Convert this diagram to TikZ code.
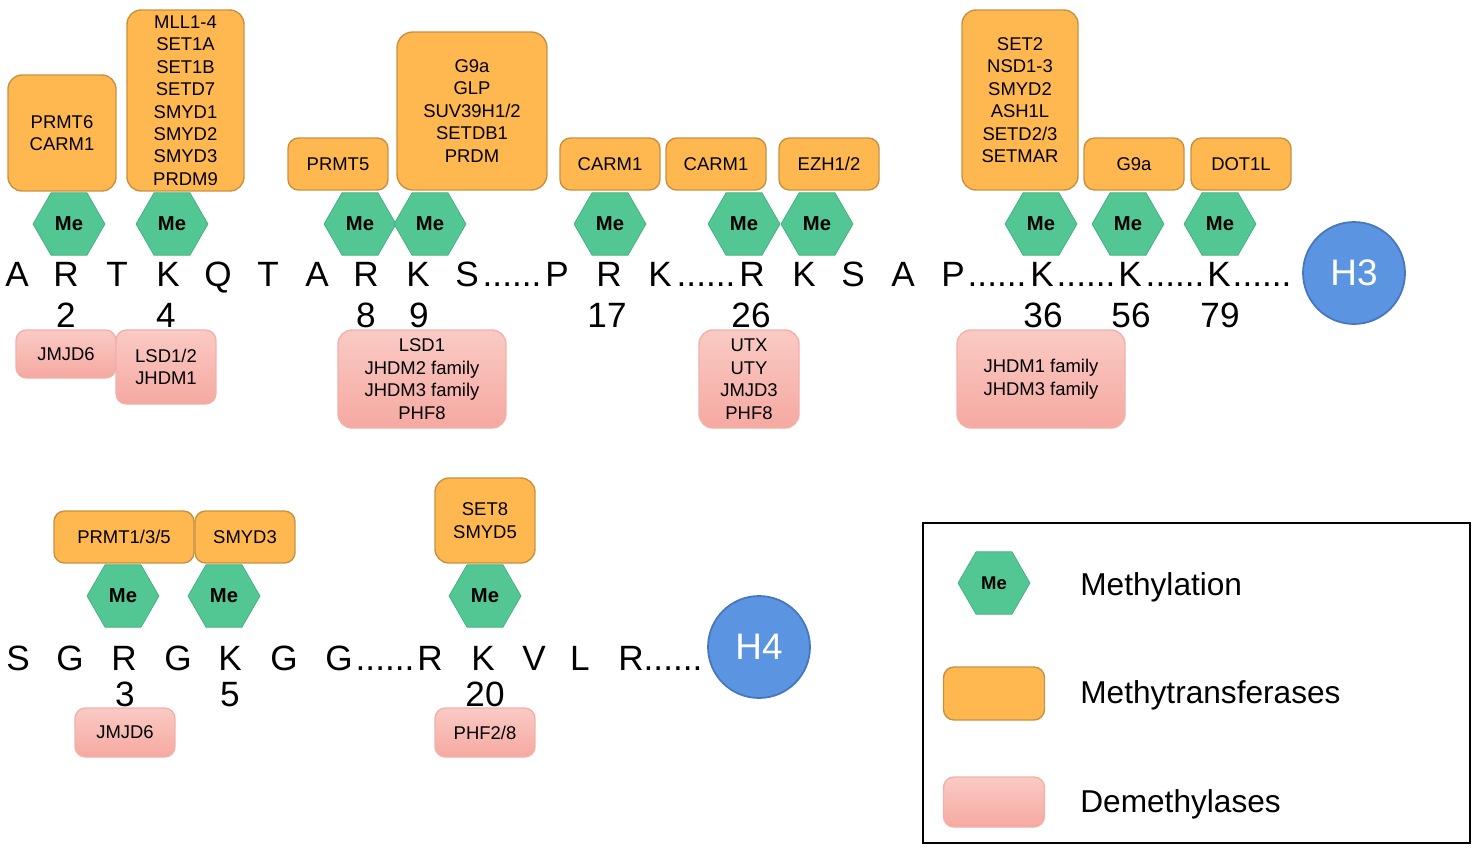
\documentclass[tikz,border=0pt]{standalone}
\usepackage{fontspec}
\setmainfont{Liberation Sans}
\usetikzlibrary{shapes.geometric}

\definecolor{mtorange}{HTML}{FFB84F}
\definecolor{mtedge}{HTML}{C8913F}
\definecolor{megreen}{HTML}{52C693}
\definecolor{meedge}{HTML}{44AE7E}
\definecolor{dmtop}{HTML}{FACAC4}
\definecolor{dmbot}{HTML}{F5A9A1}
\definecolor{dmedge}{HTML}{F2B0A8}
\definecolor{hblue}{HTML}{5B94E1}
\definecolor{hedge}{HTML}{4676C0}

\begin{document}
\begin{tikzpicture}[x=0.02cm, y=-0.02cm,
    mt/.style={draw=mtedge, fill=mtorange, rounded corners=6pt, line width=0.8pt, align=center, inner sep=0pt, font=\fontsize{10.5}{12.8}\selectfont},
    dm/.style={draw=dmedge, top color=dmtop, bottom color=dmbot, rounded corners=6pt, line width=0.8pt, align=center, inner sep=0pt, font=\fontsize{10.5}{12.8}\selectfont},
    me/.style={regular polygon, regular polygon sides=6, minimum size=1.44cm, fill=megreen, draw=meedge, line width=0.4pt, inner sep=0pt, font=\bfseries\fontsize{11.5}{12}\selectfont},
    res/.style={anchor=base, inner sep=0pt, font=\fontsize{20}{24}\selectfont},
    hist/.style={circle, minimum size=2.04cm, fill=hblue, draw=hedge, line width=1pt, text=white, font=\fontsize{21}{24}\selectfont},
    key/.style={anchor=base west, inner sep=0pt, font=\fontsize{18}{22}\selectfont}]
    \useasboundingbox (0,0) rectangle (1476,849);

    % H3 tail
    \node[res] (a1) at (17,286) {A};
    \node[res] (r2) at (66,286) {R};
    \node[res] (t3) at (117,286) {T};
    \node[res] (k4) at (168,286) {K};
    \node[res] (q5) at (218,286) {Q};
    \node[res] (t6) at (268,286) {T};
    \node[res] (a7) at (317,286) {A};
    \node[res] (r8) at (366,286) {R};
    \node[res] (k9) at (418,286) {K};
    \node[res] (s10) at (467,286) {S};
    \node[res] (d1) at (512,286) {......};
    \node[res] (p16) at (557,286) {P};
    \node[res] (r17) at (609,286) {R};
    \node[res] (k18) at (660,286) {K};
    \node[res] (d2) at (706,286) {......};
    \node[res] (r26) at (752,286) {R};
    \node[res] (k27) at (804,286) {K};
    \node[res] (s28) at (853,286) {S};
    \node[res] (a29) at (903,286) {A};
    \node[res] (p30) at (953,286) {P};
    \node[res] (d3) at (997,286) {......};
    \node[res] (k36) at (1042,286) {K};
    \node[res] (d4) at (1086,286) {......};
    \node[res] (k56) at (1130,286) {K};
    \node[res] (d5) at (1175,286) {......};
    \node[res] (k79) at (1219,286) {K};
    \node[res] (d6) at (1262,286) {......};
    \node[hist] (h3) at (1354,273) {H3};

    \node[res] (n2) at (66,327) {2};
    \node[res] (n4) at (166,327) {4};
    \node[res] (n8) at (366,327) {8};
    \node[res] (n9) at (419,327) {9};
    \node[res] (n17) at (607,327) {17};
    \node[res] (n26) at (751,327) {26};
    \node[res] (n36) at (1043,327) {36};
    \node[res] (n56) at (1131,327) {56};
    \node[res] (n79) at (1220,327) {79};

    \node[me] (m2) at (69,224) {Me};
    \node[me] (m4) at (172,224) {Me};
    \node[me] (m8) at (360,224) {Me};
    \node[me] (m9) at (430,224) {Me};
    \node[me] (m17) at (610,224) {Me};
    \node[me] (m26) at (744,224) {Me};
    \node[me] (m27) at (817,224) {Me};
    \node[me] (m36) at (1041,224) {Me};
    \node[me] (m56) at (1128,224) {Me};
    \node[me] (m79) at (1220,224) {Me};

    \node[mt, minimum width=2.16cm, minimum height=2.32cm, rounded corners=8pt] (t2) at (62,133) {PRMT6\\CARM1};
    \node[mt, minimum width=2.34cm, minimum height=3.62cm, rounded corners=8pt] (t4) at (185.5,100.5) {MLL1-4\\SET1A\\SET1B\\SETD7\\SMYD1\\SMYD2\\SMYD3\\PRDM9};
    \node[mt, minimum width=2cm, minimum height=1.04cm] (t8) at (338,164) {PRMT5};
    \node[mt, minimum width=3cm, minimum height=3.16cm, rounded corners=9pt] (t9) at (472,111) {G9a\\GLP\\SUV39H1/2\\SETDB1\\PRDM};
    \node[mt, minimum width=2cm, minimum height=1.04cm] (t17) at (610,164) {CARM1};
    \node[mt, minimum width=2cm, minimum height=1.04cm] (t26) at (716,164) {CARM1};
    \node[mt, minimum width=2cm, minimum height=1.04cm] (t27) at (829,164) {EZH1/2};
    \node[mt, minimum width=2.32cm, minimum height=3.6cm, rounded corners=8pt] (t36) at (1020,100) {SET2\\NSD1-3\\SMYD2\\ASH1L\\SETD2/3\\SETMAR};
    \node[mt, minimum width=2cm, minimum height=1.04cm] (t56) at (1134,164) {G9a};
    \node[mt, minimum width=2cm, minimum height=1.04cm] (t79) at (1241,164) {DOT1L};

    \node[dm, minimum width=2cm, minimum height=0.96cm] (e2) at (66,354) {JMJD6};
    \node[dm, minimum width=2cm, minimum height=1.48cm] (e4) at (166,367) {LSD1/2\\JHDM1};
    \node[dm, minimum width=3.36cm, minimum height=1.96cm, rounded corners=8pt] (e9) at (422,379) {LSD1\\JHDM2 family\\JHDM3 family\\PHF8};
    \node[dm, minimum width=2cm, minimum height=1.96cm, rounded corners=8pt] (e27) at (749,379) {UTX\\UTY\\JMJD3\\PHF8};
    \node[dm, minimum width=3.36cm, minimum height=1.96cm, rounded corners=8pt] (e36) at (1041,379) {JHDM1 family\\JHDM3 family};

    % H4 tail
    \node[res] (s1) at (18,670) {S};
    \node[res] (g2) at (70,670) {G};
    \node[res] (r3) at (124,670) {R};
    \node[res] (g4) at (178,670) {G};
    \node[res] (k5) at (230,670) {K};
    \node[res] (g6) at (284,670) {G};
    \node[res] (g7) at (339,670) {G};
    \node[res] (d7) at (385,670) {......};
    \node[res] (r19) at (430,670) {R};
    \node[res] (k20) at (483,670) {K};
    \node[res] (v21) at (534,670) {V};
    \node[res] (l22) at (580,670) {L};
    \node[res] (r23) at (631,670) {R};
    \node[res] (d8) at (673,670) {......};
    \node[hist] (h4) at (759,647) {H4};

    \node[res] (n3) at (125,706) {3};
    \node[res] (n5) at (230,706) {5};
    \node[res] (n20) at (485,706) {20};

    \node[me] (m3) at (123,596) {Me};
    \node[me] (m5) at (224,596) {Me};
    \node[me] (m20) at (485,596) {Me};

    \node[mt, minimum width=2.8cm, minimum height=1.04cm] (t3) at (124,537) {PRMT1/3/5};
    \node[mt, minimum width=2cm, minimum height=1.04cm] (t5) at (245,537) {SMYD3};
    \node[mt, minimum width=2cm, minimum height=1.7cm, rounded corners=8pt] (t20) at (485,520.5) {SET8\\SMYD5};

    \node[dm, minimum width=2cm, minimum height=0.98cm] (e3) at (125,732.5) {JMJD6};
    \node[dm, minimum width=2cm, minimum height=0.98cm] (e20) at (485,732.5) {PHF2/8};

    % legend
    \draw[line width=1.2pt] (923,523) rectangle (1470,843);
    \node[me, font=\bfseries\fontsize{10.5}{12}\selectfont] (k1) at (994,583) {Me};
    \node[mt, minimum width=2.02cm, minimum height=1.06cm] (k2) at (994,693.5) {};
    \node[dm, minimum width=2.02cm, minimum height=1.0cm] (k3) at (994,802) {};
    \node[key] (l1) at (1080,595) {Methylation};
    \node[key] (l2) at (1080,703) {Methytransferases};
    \node[key] (l3) at (1080,812) {Demethylases};
\end{tikzpicture}
\end{document}
